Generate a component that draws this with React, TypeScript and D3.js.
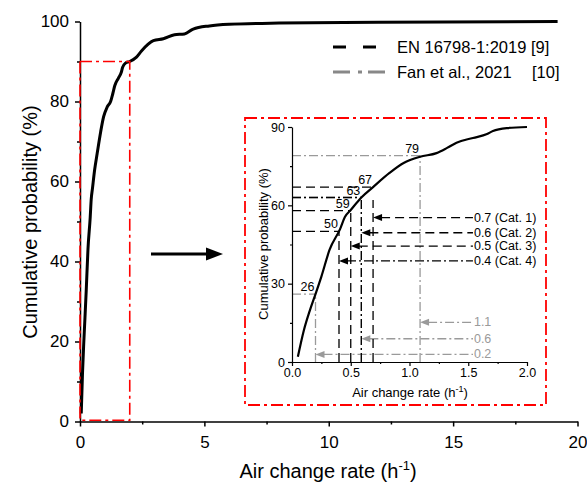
import React, { useEffect, useRef } from 'react';
import * as d3 from 'd3';

// cumulative distribution of measured air change rates
const achValues = [0.05, 0.1, 0.15, 0.2, 0.25, 0.32, 0.41, 0.45, 0.5, 0.59, 0.69, 0.83, 0.95, 1.09, 1.23, 1.32, 1.4, 1.54, 1.66, 1.71, 1.83, 2.0, 2.27, 2.48, 2.95, 3.35, 3.8, 4.2, 4.55, 5.2, 6.0, 8.0, 12.0, 19.2];
const probValues = [2, 12, 19.5, 26, 32.7, 43, 51, 55.5, 58.2, 63, 67, 72.4, 76.2, 78.6, 80, 82, 84, 85.8, 87.3, 88.5, 89.6, 90, 91.1, 92.7, 95.2, 95.7, 96.7, 96.9, 98.1, 98.9, 99.3, 99.6, 99.8, 100];

// EN 16798-1:2019 categories
const enCats = ['Cat. 1', 'Cat. 2', 'Cat. 3', 'Cat. 4'];
const enRates = ['0.7', '0.6', '0.5', '0.4'];
const enAt = [0.69, 0.59, 0.5, 0.4];
const enProb = [67, 63, 59, 50];
const enLevel = [67, 63, 58, 50];
const enVertTop = [62, 63, 58, 50];
const enArrowY = [55.3, 49.5, 44.4, 38.7];

// Fan et al., 2021
const fanRates = ['1.1', '0.6', '0.2'];
const fanAt = [1.09, 0.59, 0.2];
const fanProb = [79, 63, 26];
const fanArrowY = [15.2, 8.9, 2.9];

const mainXTicks = [0, 5, 10, 15, 20];
const mainYTicks = [0, 20, 40, 60, 80, 100];
const insetXTicks = [0, 0.5, 1.0, 1.5, 2.0];
const insetYTicks = [0, 30, 60, 90];

const FONT = '"Liberation Sans", Arial, sans-serif';
const GRAY = '#9a9a9a';
const RED = '#ff0000';
const DASH = '9,5';
const DASHDOT = '9,3,2,3';
const REDDASH = '12,4,3,4';

function App() {
  const mx = d3.scaleLinear().domain([0, 20]).range([80, 577.5]);
  const my = d3.scaleLinear().domain([0, 100]).range([421.5, 21.5]);
  const ix = d3.scaleLinear().domain([0, 2]).range([292, 527]);
  const iy = d3.scaleLinear().domain([0, 90]).range([362, 127]);

  const pts: [number, number][] = achValues.map((a, i) => [a, probValues[i]]);
  const mainLine = d3.line<[number, number]>()
    .x(d => mx(d[0])).y(d => my(d[1])).curve(d3.curveMonotoneX);
  const insetLine = d3.line<[number, number]>()
    .x(d => ix(d[0])).y(d => iy(d[1])).curve(d3.curveMonotoneX);

  const gMx = useRef<SVGGElement>(null);
  const gMy = useRef<SVGGElement>(null);
  const gIx = useRef<SVGGElement>(null);
  const gIy = useRef<SVGGElement>(null);

  useEffect(() => {
    const style = (g: any, size: number, w: number) => {
      g.selectAll('text').style('font-family', FONT).style('font-size', size + 'px').attr('fill', '#000');
      g.selectAll('line').attr('stroke', '#000').attr('stroke-width', w);
      g.selectAll('path').attr('stroke', '#000').attr('stroke-width', w);
    };
    const a1 = d3.select(gMx.current);
    a1.call(d3.axisBottom(mx).tickValues(mainXTicks).tickSize(5).tickSizeOuter(0).tickPadding(9).tickFormat(d3.format('d')) as any);
    a1.append('g').call(d3.axisBottom(mx).tickValues([2.5, 7.5, 12.5, 17.5]).tickSize(3).tickFormat(() => '') as any)
      .select('.domain').remove();
    style(a1, 17, 1.5);
    const a2 = d3.select(gMy.current);
    a2.call(d3.axisLeft(my).tickValues(mainYTicks).tickSize(5).tickSizeOuter(0).tickPadding(6) as any);
    a2.append('g').call(d3.axisLeft(my).tickValues([10, 30, 50, 70, 90]).tickSize(3).tickFormat(() => '') as any)
      .select('.domain').remove();
    style(a2, 17, 1.5);
    const a3 = d3.select(gIx.current);
    a3.call(d3.axisBottom(ix).tickValues(insetXTicks).tickSize(4).tickSizeOuter(0).tickPadding(2).tickFormat(d3.format('.1f')) as any);
    a3.append('g').call(d3.axisBottom(ix).tickValues([0.25, 0.75, 1.25, 1.75]).tickSize(2).tickFormat(() => '') as any)
      .select('.domain').remove();
    style(a3, 12.5, 1.2);
    const a4 = d3.select(gIy.current);
    a4.call(d3.axisLeft(iy).tickValues(insetYTicks).tickSize(4).tickSizeOuter(0).tickPadding(3) as any);
    a4.append('g').call(d3.axisLeft(iy).tickValues([15, 45, 75]).tickSize(2).tickFormat(() => '') as any)
      .select('.domain').remove();
    style(a4, 12.5, 1.2);
  }, []);

  const arrowHead = (x: number, y: number, color: string) => (
    <path d={`M${x},${y} L${x + 9},${y - 3.5} L${x + 9},${y + 3.5} Z`} fill={color} />
  );
  const tailX = ix(1.54);

  return (
    <svg width={587} height={486} style={{ position: 'absolute', left: 0, top: 0, fontFamily: FONT }}>
      <rect width={587} height={486} fill="#fff" />

      {/* main chart */}
      <g ref={gMx} transform={`translate(0,${my(0)})`} />
      <g ref={gMy} transform={`translate(${mx(0)},0)`} />
      <path d={mainLine(pts) || ''} fill="none" stroke="#000" strokeWidth={3} strokeLinejoin="round" />
      <rect x={mx(0)} y={my(90)} width={mx(2) - mx(0)} height={my(0.3) - my(90)} fill="none"
        stroke={RED} strokeWidth={1.6} strokeDasharray={REDDASH} />

      <text x={30} y={222} transform="rotate(-90,30,222)" textAnchor="middle" dominantBaseline="central" fontSize={20}>
        Cumulative probability (%)
      </text>
      <text x={328} y={478} textAnchor="middle" fontSize={20}>
        Air change rate (h<tspan dy={-8} fontSize={13}>-1</tspan><tspan dy={8}>)</tspan>
      </text>

      {/* legend */}
      <line x1={333} x2={378} y1={47} y2={47} stroke="#000" strokeWidth={3} strokeDasharray="13,17" />
      <text x={397} y={53} fontSize={16.5}>EN 16798-1:2019 [9]</text>
      <line x1={333} x2={389} y1={72} y2={72} stroke="#888" strokeWidth={3} strokeDasharray="17,8,4,6" />
      <text x={397} y={78} fontSize={16.5}>Fan et al., 2021</text>
      <text x={532} y={78} fontSize={16.5}>[10]</text>

      {/* arrow */}
      <line x1={151} x2={210} y1={254} y2={254} stroke="#000" strokeWidth={3} />
      <path d="M223,254 L206,247.5 L206,260.5 Z" fill="#000" />

      {/* inset */}
      <rect x={245} y={118} width={301} height={287} fill="none" stroke={RED} strokeWidth={1.8} strokeDasharray={REDDASH} />

      {/* Fan reference lines */}
      {fanAt.map((a, i) => (
        <g key={'f' + i}>
          <line x1={ix(0)} x2={ix(a)} y1={iy(fanProb[i])} y2={iy(fanProb[i])} stroke={GRAY} strokeWidth={1.3} strokeDasharray={DASHDOT} />
          <line x1={ix(a)} x2={ix(a)} y1={iy(0)} y2={iy(fanProb[i])} stroke={GRAY} strokeWidth={1.3} strokeDasharray={DASHDOT} />
          <line x1={ix(a) + 8} x2={tailX} y1={iy(fanArrowY[i])} y2={iy(fanArrowY[i])} stroke={GRAY} strokeWidth={1.3} strokeDasharray={DASHDOT} />
          {arrowHead(ix(a), iy(fanArrowY[i]), GRAY)}
          <text x={tailX + 1} y={iy(fanArrowY[i])} dominantBaseline="central" fontSize={12.5} fill={GRAY}>{fanRates[i]}</text>
        </g>
      ))}

      {/* EN reference lines */}
      {enAt.map((a, i) => {
        const dd = i === 1 ? DASHDOT : DASH;
        return (
          <g key={'e' + i}>
            <line x1={ix(0)} x2={ix(a)} y1={iy(enLevel[i])} y2={iy(enLevel[i])} stroke="#000" strokeWidth={1.3} strokeDasharray={dd} />
            <line x1={ix(a)} x2={ix(a)} y1={iy(0)} y2={iy(enVertTop[i])} stroke="#000" strokeWidth={1.3} strokeDasharray={dd} />
            <line x1={ix(a) + 8} x2={tailX} y1={iy(enArrowY[i])} y2={iy(enArrowY[i])} stroke="#000" strokeWidth={1.3}
              strokeDasharray={i === 3 ? DASHDOT : DASH} />
            {arrowHead(ix(a), iy(enArrowY[i]), '#000')}
            <text x={tailX + 1} y={iy(enArrowY[i])} dominantBaseline="central" fontSize={12.5}>
              {enRates[i]} ({enCats[i]})
            </text>
          </g>
        );
      })}

      <path d={insetLine(pts.filter(p => p[0] <= 2)) || ''} fill="none" stroke="#000" strokeWidth={2.2} strokeLinejoin="round" />

      {/* value labels */}
      {enAt.map((a, i) => (
        <text key={'el' + i} x={ix(a) - 1} y={iy(enLevel[i]) - 3} textAnchor="end" fontSize={12.5}>{enProb[i]}</text>
      ))}
      {fanAt.map((a, i) => fanProb[i] === 63 ? null : (
        <text key={'fl' + i} x={ix(a) - 1} y={iy(fanProb[i]) - 3} textAnchor="end" fontSize={12.5}>{fanProb[i]}</text>
      ))}

      <g ref={gIx} transform={`translate(0,${iy(0)})`} />
      <g ref={gIy} transform={`translate(${ix(0)},0)`} />

      <text x={263} y={244} transform="rotate(-90,263,244)" textAnchor="middle" dominantBaseline="central" fontSize={13}>
        Cumulative probability (%)
      </text>
      <text x={410} y={397} textAnchor="middle" fontSize={13}>
        Air change rate (h<tspan dy={-5} fontSize={9}>-1</tspan><tspan dy={5}>)</tspan>
      </text>
    </svg>
  );
}

export default App;
